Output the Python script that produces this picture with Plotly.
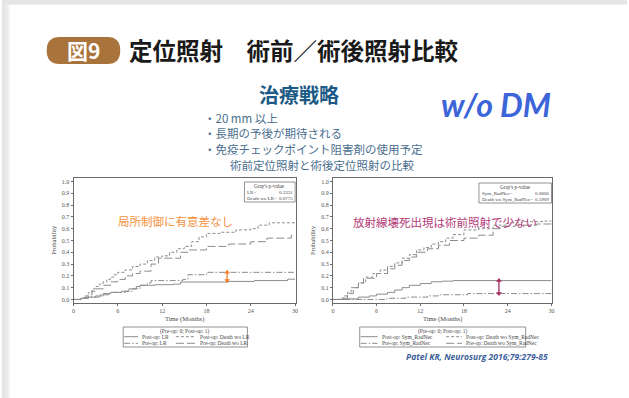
import plotly.graph_objects as go

W, H = 629, 398

# ---- cumulative incidence data (months, probability) ----
lr_post_t = [0, 1.0, 1.5, 3.0, 4.0, 5.0, 6.5, 7.5, 8.5, 9.0, 11.0, 13.5, 14.5, 21.0, 24.5, 29.0, 30.0]
lr_post_v = [0, 0.01, 0.02, 0.03, 0.05, 0.06, 0.07, 0.09, 0.11, 0.12, 0.125, 0.13, 0.148, 0.153, 0.16, 0.172, 0.172]

lr_pre_t = [0, 1.0, 2.0, 3.5, 5.0, 7.0, 8.0, 9.0, 10.0, 10.5, 14.8, 15.5, 18.0, 30.0]
lr_pre_v = [0, 0.01, 0.02, 0.04, 0.06, 0.07, 0.09, 0.12, 0.14, 0.16, 0.17, 0.21, 0.23, 0.23]

dlr_post_t = [0, 1.0, 1.5, 2.0, 2.5, 3.0, 3.5, 4.0, 4.5, 5.0, 5.5, 6.0, 7.0, 8.0, 9.0, 10.0, 11.0, 12.0, 13.0, 14.0, 15.0, 16.0, 17.0, 18.0, 20.0, 22.0, 24.0, 25.0, 26.5, 30.0]
dlr_post_v = [0, 0.01, 0.03, 0.06, 0.09, 0.11, 0.13, 0.15, 0.17, 0.19, 0.21, 0.23, 0.25, 0.28, 0.30, 0.33, 0.36, 0.37, 0.40, 0.43, 0.45, 0.49, 0.53, 0.56, 0.57, 0.59, 0.60, 0.63, 0.65, 0.65]

dlr_pre_t = [0, 1.0, 2.0, 2.5, 3.0, 4.0, 5.0, 6.0, 7.0, 8.0, 9.0, 10.5, 11.5, 13.0, 14.5, 15.5, 18.0, 21.0, 24.0, 26.2, 29.5, 30.0]
dlr_pre_v = [0, 0.01, 0.04, 0.07, 0.09, 0.12, 0.15, 0.17, 0.20, 0.22, 0.24, 0.30, 0.35, 0.35, 0.40, 0.42, 0.45, 0.47, 0.49, 0.52, 0.545, 0.545]

rn_post_t = [0, 2.0, 3.5, 5.0, 6.0, 7.5, 8.5, 9.5, 10.5, 12.0, 13.5, 15.0, 16.5, 30.0]
rn_post_v = [0, 0.005, 0.02, 0.03, 0.045, 0.06, 0.08, 0.10, 0.12, 0.135, 0.15, 0.155, 0.16, 0.16]

rn_pre_t = [0, 7.4, 10.0, 13.0, 14.5, 18.5, 30.0]
rn_pre_v = [0, 0.01, 0.02, 0.03, 0.04, 0.05, 0.05]

drn_post_t = [0, 1.0, 1.5, 2.0, 2.5, 3.5, 4.5, 5.5, 6.5, 7.5, 8.5, 9.5, 10.5, 11.5, 12.5, 13.5, 14.5, 15.5, 16.5, 18.0, 20.0, 22.0, 24.0, 26.0, 29.0, 30.0]
drn_post_v = [0, 0.01, 0.03, 0.06, 0.10, 0.14, 0.19, 0.22, 0.25, 0.28, 0.31, 0.35, 0.38, 0.42, 0.44, 0.47, 0.49, 0.52, 0.55, 0.59, 0.60, 0.63, 0.65, 0.66, 0.665, 0.665]

drn_pre_t = [0, 1.0, 2.0, 2.8, 3.5, 4.2, 6.0, 7.5, 8.5, 9.5, 10.5, 11.5, 13.0, 14.5, 16.0, 18.0, 20.0, 22.0, 23.0, 25.0, 28.0, 30.0]
drn_pre_v = [0, 0.01, 0.05, 0.10, 0.14, 0.18, 0.22, 0.26, 0.29, 0.33, 0.36, 0.40, 0.43, 0.46, 0.50, 0.52, 0.545, 0.60, 0.62, 0.63, 0.64, 0.64]

x_ticks = [0, 6, 12, 18, 24, 30]
y_ticks = [0.0, 0.1, 0.2, 0.3, 0.4, 0.5, 0.6, 0.7, 0.8, 0.9, 1.0]
y_tick_text = ["0.0", "0.1", "0.2", "0.3", "0.4", "0.5", "0.6", "0.7", "0.8", "0.9", "1.0"]

# arrows marking the gap between pre-op and post-op curves
lr_gap_t, lr_gap_lo, lr_gap_hi = 20.8, 0.16, 0.23
rn_gap_t, rn_gap_lo, rn_gap_hi = 22.8, 0.05, 0.16

LINE = "#8c8c8c"
SERIF = "Liberation Serif"
JP = "Noto Sans CJK JP"

SOLID = "solid"
SHORT = "3px,2px"
LONG = "8px,3px"
DASHDOT = "6px,2px,1.5px,2px"


def px(x):
    return x / W


def py(y):
    return 1 - y / H


fig = go.Figure()


def add_curve(t, v, dash, xa, ya):
    fig.add_trace(go.Scatter(x=t, y=v, mode="lines", line_shape="hv",
                             line=dict(color=LINE, width=1, dash=dash),
                             xaxis=xa, yaxis=ya, showlegend=False, hoverinfo="skip"))


add_curve(lr_post_t, lr_post_v, SOLID, "x", "y")
add_curve(lr_pre_t, lr_pre_v, DASHDOT, "x", "y")
add_curve(dlr_post_t, dlr_post_v, SHORT, "x", "y")
add_curve(dlr_pre_t, dlr_pre_v, LONG, "x", "y")

add_curve(rn_post_t, rn_post_v, SOLID, "x2", "y2")
add_curve(rn_pre_t, rn_pre_v, DASHDOT, "x2", "y2")
add_curve(drn_post_t, drn_post_v, SHORT, "x2", "y2")
add_curve(drn_pre_t, drn_pre_v, LONG, "x2", "y2")

# double-headed gap arrows (vertical line with triangle tips)
for xa, ya, t, lo, hi, col in [("x", "y", lr_gap_t, lr_gap_lo, lr_gap_hi, "#f3802a"),
                               ("x2", "y2", rn_gap_t, rn_gap_lo, rn_gap_hi, "#a8285e")]:
    fig.add_trace(go.Scatter(x=[t, t], y=[lo, hi], mode="lines+markers",
                             line=dict(color=col, width=1.3),
                             marker=dict(symbol=["triangle-down", "triangle-up"], size=5,
                                         color=col, line_width=0),
                             xaxis=xa, yaxis=ya, showlegend=False, hoverinfo="skip"))

axis_common = dict(showgrid=False, zeroline=False, showline=True, linecolor="#6a6a6a",
                   linewidth=1, mirror=True, ticks="outside", ticklen=2,
                   tickcolor="#6a6a6a", tickfont=dict(family=SERIF, size=6, color="#555"))

y_dom = [py(303), py(178)]
fig.update_layout(
    width=W, height=H, margin=dict(l=0, r=0, t=0, b=0),
    paper_bgcolor="white", plot_bgcolor="white",
    xaxis=dict(domain=[px(72), px(296)], range=[0, 30.15], tickvals=x_ticks, **axis_common),
    yaxis=dict(domain=y_dom, range=[-0.03, 1.03], tickvals=y_ticks, ticktext=y_tick_text, **axis_common),
    xaxis2=dict(domain=[px(333), px(554)], range=[0, 30.15], tickvals=x_ticks, anchor="y2", **axis_common),
    yaxis2=dict(domain=y_dom, range=[-0.03, 1.03], tickvals=y_ticks, ticktext=y_tick_text, anchor="x2", **axis_common),
)

shapes = []
ann = []

# page frame: grey border with soft shadow
shapes += [
    dict(type="rect", xref="paper", yref="paper", x0=0, x1=1, y0=py(5), y1=1,
         fillcolor="#e6e6e6", line_width=0, layer="below"),
    dict(type="rect", xref="paper", yref="paper", x0=0, x1=px(3), y0=0, y1=1,
         fillcolor="#e4e4e4", line_width=0, layer="below"),
    dict(type="rect", xref="paper", yref="paper", x0=px(3), x1=px(6), y0=0, y1=py(4),
         fillcolor="#ebebeb", line_width=0, layer="below"),
    dict(type="rect", xref="paper", yref="paper", x0=px(6), x1=px(8), y0=0, y1=py(4),
         fillcolor="#f3f3f3", line_width=0, layer="below"),
    dict(type="rect", xref="paper", yref="paper", x0=px(3), x1=1, y0=py(5), y1=py(4),
         fillcolor="#eeeeee", line_width=0, layer="below"),
]

# header badge (rounded)
bx0, bx1, by0, by1, r = 45, 119, 37, 64, 13
path = (f"M {px(bx0 + r)} {py(by0)} L {px(bx1 - r)} {py(by0)} "
        f"Q {px(bx1)} {py(by0)} {px(bx1)} {py((by0 + by1) / 2)} "
        f"Q {px(bx1)} {py(by1)} {px(bx1 - r)} {py(by1)} "
        f"L {px(bx0 + r)} {py(by1)} "
        f"Q {px(bx0)} {py(by1)} {px(bx0)} {py((by0 + by1) / 2)} "
        f"Q {px(bx0)} {py(by0)} {px(bx0 + r)} {py(by0)} Z")
shapes.append(dict(type="path", xref="paper", yref="paper", path=path,
                   fillcolor="#a9733c", line_width=0))


def text(x, y, s, size, color, family=JP, xanchor="left", **kw):
    ann.append(dict(xref="paper", yref="paper", x=px(x), y=py(y), text=s, showarrow=False,
                    xanchor=xanchor, yanchor="middle",
                    font=dict(family=family, size=size, color=color), **kw))


text(82, 50.5, "<b>図9</b>", 21, "white", xanchor="center")
text(126, 50.5, "<b>定位照射　術前／術後照射比較</b>", 23.5, "#1a1a1a")
text(299, 95, "<b>治療戦略</b>", 20, "#1b5a86", xanchor="center")
text(497, 105, "<i><b>w/o DM</b></i>", 32, "#3b65d8", family="Lato", xanchor="center")
text(201, 118, "・20 mm 以上", 11.5, "#4a6e8e")
text(201, 133, "・長期の予後が期待される", 11.5, "#4a6e8e")
text(201, 149, "・免疫チェックポイント阻害剤の使用予定", 11.5, "#4a6e8e")
text(227, 165, "術前定位照射と術後定位照射の比較", 11.5, "#4a6e8e")

text(115, 221, "局所制御に有意差なし", 11.5, "#f3923c")
text(351, 222, "放射線壊死出現は術前照射で少ない", 11.5, "#b33a78")

text(552, 356, "<i><b>Patel KR, Neurosurg 2016;79:279-85</b></i>", 8.5, "#3d5f9b",
     family="Open Sans", xanchor="right")

# axis titles
for cx, tx in [(184, 52), (443, 313)]:
    text(cx, 319, "Time (Months)", 6.5, "#444", family=SERIF, xanchor="center")
    ann.append(dict(xref="paper", yref="paper", x=px(tx), y=py(240), text="Probability",
                    showarrow=False, textangle=-90, xanchor="center", yanchor="middle",
                    font=dict(family=SERIF, size=6.5, color="#444")))


# Gray's p-value boxes
def pbox(x0, x1, y0, y1, rows):
    shapes.append(dict(type="rect", xref="paper", yref="paper", x0=px(x0), x1=px(x1),
                       y0=py(y1), y1=py(y0), line=dict(color="#777", width=0.8),
                       fillcolor="white"))
    text((x0 + x1) / 2, y0 + 3.8, "Gray's p-value", 5.2, "#444", family=SERIF, xanchor="center")
    for i, (lab, val) in enumerate(rows):
        yy = y0 + 10 + 6.5 * i
        text(x0 + 1, yy, lab, 5, "#444", family=SERIF)
        text(x1 - 0.5, yy, val, 5, "#444", family=SERIF, xanchor="right")


pbox(244, 295, 182, 202, [("LR=", "0.3331"), ("Death wo LR=", "0.0775")])
pbox(480, 553, 183, 203, [("Sym_RadNec=", "0.0806"), ("Death wo Sym_RadNec=", "0.5909")])


# legend boxes
def legend_box(x0, x1, y0, y1, items):
    shapes.append(dict(type="rect", xref="paper", yref="paper", x0=px(x0), x1=px(x1),
                       y0=py(y1), y1=py(y0), line=dict(color="#777", width=0.8)))
    text((x0 + x1) / 2, y0 + 4.5, "(Pre-op: 0; Post-op: 1)", 5.5, "#444", family=SERIF, xanchor="center")
    for (lx0, lx1, yy, dash, lab) in items:
        shapes.append(dict(type="line", xref="paper", yref="paper", x0=px(lx0), x1=px(lx1),
                           y0=py(yy), y1=py(yy), line=dict(color=LINE, width=1, dash=dash)))
        text(lx1 + 2, yy, lab, 5.5, "#444", family=SERIF)


legend_box(122, 247, 327, 347, [
    (123, 137, 336.7, SOLID, "Post-op: LR"),
    (175, 195, 336.7, SHORT, "Post-op: Death wo LR"),
    (123, 137, 343.3, DASHDOT, "Pre-op: LR"),
    (175, 195, 343.3, LONG, "Pre-op: Death wo LR"),
])
legend_box(360, 527, 327, 347, [
    (361, 378, 336.7, SOLID, "Post-op: Sym_RadNec"),
    (447, 463, 336.7, SHORT, "Post-op: Death wo Sym_RadNec"),
    (361, 378, 343.3, DASHDOT, "Pre-op: Sym_RadNec"),
    (447, 463, 343.3, LONG, "Pre-op: Death wo Sym_RadNec"),
])

fig.update_layout(shapes=shapes, annotations=ann)
fig.write_html("out.html")
